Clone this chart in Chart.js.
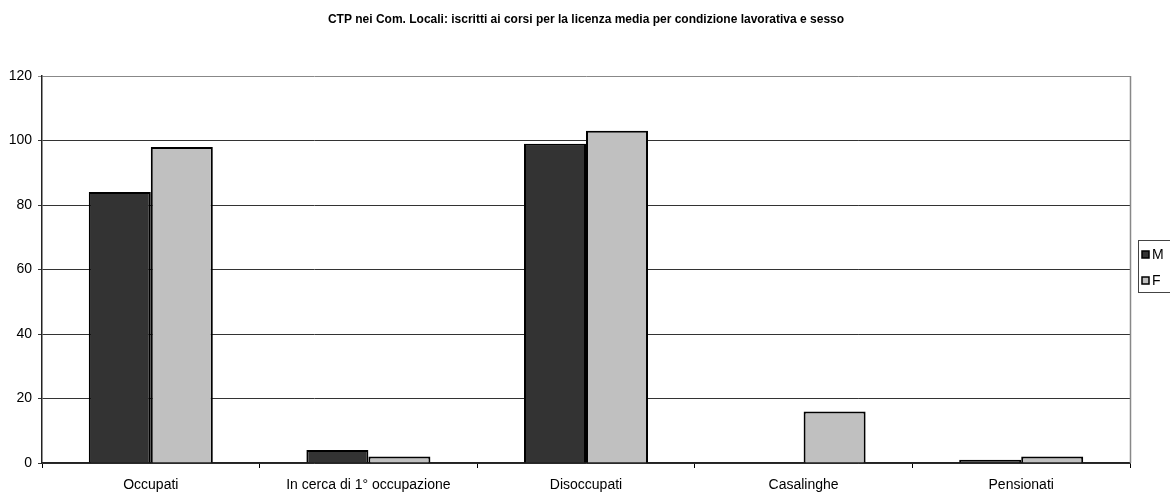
<!DOCTYPE html>
<html>
<head>
<meta charset="utf-8">
<script src="https://cdn.jsdelivr.net/npm/chart.js@4"></script>
<style>
  html, body { margin: 0; padding: 0; background: #fff; }
  #wrap { width: 1170px; height: 493px; }
</style>
</head>
<body>
<div id="wrap"><canvas id="chart" width="1170" height="493"></canvas></div>
<script>
(function () {
    "use strict";

    var titleText = "CTP nei Com. Locali: iscritti ai corsi per la licenza media per condizione lavorativa e sesso";
    var categories = ["Occupati", "In cerca di 1\u00b0 occupazione", "Disoccupati", "Casalinghe", "Pensionati"];
    var maschi = [84, 4, 99, 0, 1];
    var femmine = [98, 2, 103, 16, 2];
    var yTicks = [0, 20, 40, 60, 80, 100, 120];

    var FONT = "'Liberation Sans', Arial, sans-serif";

    // title, right frame line and the boxed legend
    var decor = {
        id: "decor",
        afterDraw: function (chart) {
            var c = chart.ctx;
            var a = chart.chartArea;
            c.save();
            c.fillStyle = "#000";
            c.font = "bold 12px " + FONT;
            c.textAlign = "center";
            c.textBaseline = "middle";
            c.fillText(titleText, 586, 20);

            c.strokeStyle = "#888";
            c.lineWidth = 1.5;
            c.beginPath();
            c.moveTo(a.right + 0.5, a.top);
            c.lineTo(a.right + 0.5, a.bottom);
            c.stroke();

            // legend
            c.strokeStyle = "#444";
            c.lineWidth = 1;
            c.strokeRect(1138.5, 240.5, 40, 52);
            c.font = "14px " + FONT;
            c.textAlign = "left";
            var items = chart.data.datasets;
            for (var i = 0; i < items.length; i++) {
                var y = 255 + i * 26;
                c.fillStyle = items[i].backgroundColor;
                c.fillRect(1142, y - 4, 7, 7);
                c.strokeStyle = "#000";
                c.lineWidth = 1.5;
                c.strokeRect(1142, y - 4, 7, 7);
                c.fillStyle = "#000";
                c.fillText(items[i].label, 1152, y);
            }
            c.restore();
        }
    };

    new Chart(document.getElementById("chart"), {
        type: "bar",
        data: {
            labels: categories,
            datasets: [
                {
                    label: "M",
                    data: maschi,
                    backgroundColor: "#333333",
                    borderColor: "#000",
                    borderWidth: 2,
                    borderSkipped: "bottom"
                },
                {
                    label: "F",
                    data: femmine,
                    backgroundColor: "#c0c0c0",
                    borderColor: "#000",
                    borderWidth: 2,
                    borderSkipped: "bottom"
                }
            ]
        },
        options: {
            responsive: false,
            animation: false,
            devicePixelRatio: 1,
            categoryPercentage: 0.57,
            barPercentage: 1.0,
            layout: { padding: { top: 76, right: 40, bottom: 0, left: 0 } },
            scales: {
                x: {
                    grid: {
                        offset: true,
                        drawOnChartArea: false,
                        color: "#000",
                        tickLength: 5
                    },
                    border: { color: "#222", width: 1.5 },
                    ticks: {
                        color: "#000",
                        font: { family: FONT, size: 14 },
                        padding: 9,
                        maxRotation: 0
                    },
                    afterFit: function (s) { s.height = 30; }
                },
                y: {
                    min: 0,
                    max: 120,
                    afterBuildTicks: function (s) {
                        s.ticks = yTicks.map(function (v) { return { value: v }; });
                    },
                    grid: {
                        color: function (ctx) { return ctx.tick && ctx.tick.value === 120 ? "#888" : "#333"; },
                        lineWidth: 1,
                        tickLength: 4
                    },
                    border: { color: "#222", width: 1.5 },
                    ticks: {
                        color: "#000",
                        font: { family: FONT, size: 14 },
                        padding: 6
                    },
                    afterFit: function (s) { s.width = 42; }
                }
            },
            plugins: {
                legend: { display: false },
                title: { display: false },
                tooltip: { enabled: false }
            }
        },
        plugins: [decor]
    });
})();
</script>
</body>
</html>
